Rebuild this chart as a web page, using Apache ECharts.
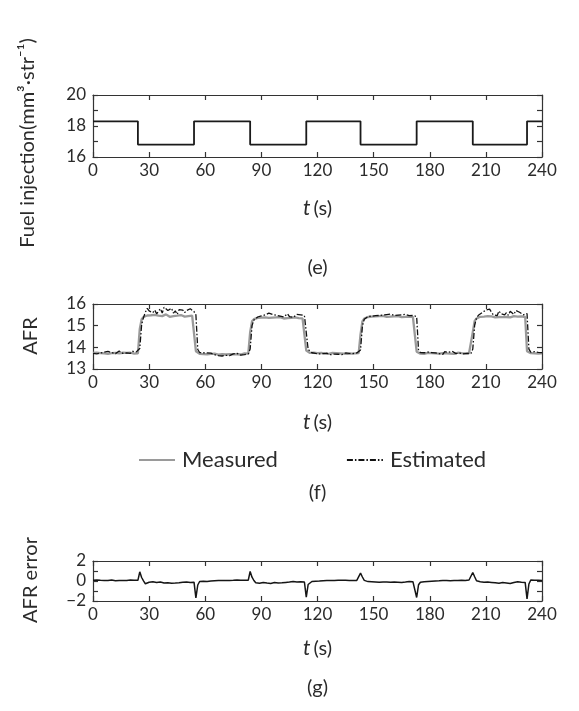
<!DOCTYPE html>
<html>
<head>
<meta charset="utf-8">
<script src="https://cdn.jsdelivr.net/npm/echarts@6/dist/echarts.min.js"></script>
<style>
  html, body { margin: 0; padding: 0; background: #ffffff; }
  #chart { width: 579px; height: 711px; }
</style>
</head>
<body>
<div id="chart"></div>
<script>
// ---- (e) fuel injection command: switching instants (s) and held level (mm³/stroke)
const fuelSwitchTimes = [0, 24, 54, 84, 114, 143, 173, 203, 232, 240];
const fuelLevels      = [18.3, 16.8, 18.3, 16.8, 18.3, 16.8, 18.3, 16.8, 18.3, 18.3];

// ---- (f) air-fuel ratio, one sample per second from t = 0 to t = 240
const SAMPLE_STEP = 1;
const afrMeasured = [
  13.74,13.72,13.75,13.71,13.73,13.76,13.72,13.74,13.70,13.75,
  13.73,13.71,13.74,13.76,13.72,13.73,13.75,13.71,13.74,13.72,
  13.75,13.73,13.71,13.74,13.72,14.85,15.30,15.40,15.44,15.47,
  15.43,15.48,15.45,15.50,15.42,15.46,15.49,15.44,15.47,15.52,
  15.45,15.41,15.48,15.44,15.50,15.46,15.43,15.49,15.45,15.42,
  15.47,15.44,15.50,15.46,15.43,13.82,13.74,13.70,13.72,13.69,
  13.71,13.68,13.72,13.70,13.67,13.71,13.69,13.66,13.70,13.68,
  13.65,13.67,13.70,13.68,13.66,13.69,13.71,13.68,13.70,13.67,
  13.69,13.72,13.70,13.71,14.70,15.20,15.30,15.33,15.36,15.34,
  15.37,15.35,15.38,15.33,15.36,15.40,15.37,15.34,15.38,15.35,
  15.39,15.36,15.33,15.37,15.35,15.40,15.36,15.34,15.38,15.36,
  15.35,15.38,15.34,15.37,13.85,13.78,13.74,13.72,13.75,13.71,
  13.73,13.70,13.74,13.72,13.71,13.73,13.70,13.72,13.74,13.71,
  13.73,13.70,13.72,13.69,13.71,13.73,13.70,13.72,13.71,13.74,
  13.72,13.70,13.73,14.60,15.20,15.33,15.38,15.40,15.39,15.42,
  15.40,15.43,15.41,15.44,15.42,15.45,15.43,15.41,15.44,15.42,
  15.45,15.43,15.40,15.44,15.42,15.39,15.43,15.41,15.40,15.42,
  15.39,15.41,15.40,13.80,13.74,13.71,13.73,13.70,13.72,13.74,
  13.71,13.73,13.70,13.72,13.74,13.71,13.69,13.73,13.70,13.72,
  13.74,13.71,13.73,13.70,13.72,13.75,13.71,13.73,13.70,13.72,
  13.71,13.73,13.72,14.70,15.22,15.33,15.38,15.41,15.37,15.42,
  15.40,15.44,15.39,15.43,15.41,15.38,15.42,15.40,15.44,15.39,
  15.42,15.40,15.43,15.38,15.41,15.44,15.40,15.42,15.39,15.43,
  15.41,15.40,13.82,13.76,13.73,13.75,13.72,13.74,13.71,13.73,
  13.72
];
const afrEstimated = [
  13.72,13.77,13.70,13.79,13.74,13.69,13.78,13.73,13.81,13.72,
  13.76,13.80,13.71,13.75,13.83,13.76,13.72,13.80,13.74,13.79,
  13.72,13.82,13.75,13.78,13.74,13.95,15.05,15.38,15.62,15.80,
  15.68,15.75,15.60,15.72,15.55,15.66,15.78,15.58,15.85,15.93,
  15.70,15.62,15.80,15.58,15.68,15.52,15.74,15.65,15.72,15.60,
  15.70,15.62,15.78,15.74,15.65,15.50,13.90,13.76,13.72,13.75,
  13.70,13.74,13.68,13.73,13.69,13.66,13.71,13.62,13.64,13.60,
  13.58,13.63,13.67,13.62,13.66,13.70,13.65,13.72,13.68,13.64,
  13.70,13.66,13.73,13.70,13.92,15.00,15.26,15.34,15.40,15.37,
  15.45,15.38,15.50,15.42,15.58,15.66,15.52,15.60,15.48,15.55,
  15.44,15.52,15.40,15.48,15.55,15.42,15.50,15.38,15.46,15.52,
  15.44,15.50,15.42,15.47,15.45,13.90,13.82,13.75,13.80,13.72,
  13.76,13.70,13.74,13.71,13.68,13.73,13.70,13.66,13.72,13.69,
  13.73,13.68,13.71,13.66,13.70,13.74,13.68,13.72,13.67,13.71,
  13.69,13.74,13.71,13.88,14.98,15.30,15.38,15.42,15.45,15.44,
  15.48,15.46,15.50,15.47,15.52,15.49,15.46,15.51,15.48,15.53,
  15.50,15.47,15.52,15.49,15.45,15.50,15.47,15.52,15.48,15.46,
  15.49,15.47,15.44,15.42,13.86,13.76,13.72,13.75,13.70,13.78,
  13.72,13.76,13.69,13.74,13.79,13.71,13.75,13.68,13.80,13.73,
  13.77,13.70,13.82,13.74,13.71,13.79,13.73,13.76,13.70,13.78,
  13.72,13.75,13.71,13.92,15.02,15.36,15.48,15.42,15.60,15.55,
  15.72,15.80,15.76,15.62,15.50,15.58,15.46,15.68,15.55,15.64,
  15.50,15.60,15.48,15.66,15.58,15.52,15.70,15.76,15.62,15.54,
  15.50,15.46,15.56,13.92,13.78,13.74,13.80,13.72,13.77,13.74,
  13.76
];

// ---- (g) AFR estimation error, same sampling
const afrError = [
  0.08,0.06,0.09,0.05,0.07,0.10,0.06,0.08,0.04,0.07,
  0.09,0.05,0.03,0.07,0.06,0.09,0.05,0.08,0.06,0.07,
  0.10,0.06,0.08,0.05,0.07,0.92,0.35,0.02,-0.28,-0.20,
  -0.12,-0.22,-0.08,-0.18,-0.15,-0.25,-0.10,-0.16,-0.20,-0.12,
  -0.18,-0.09,-0.22,-0.14,-0.20,-0.08,-0.17,-0.24,-0.12,-0.19,
  -0.10,-0.21,-0.15,-0.06,-0.12,-1.68,-0.40,-0.05,-0.12,-0.02,
  0.02,-0.04,0.05,0.00,0.06,0.03,-0.02,0.05,0.08,0.04,
  0.07,0.05,0.09,0.06,0.10,0.07,0.05,0.09,0.11,0.08,
  0.10,0.07,0.09,0.08,0.95,0.38,0.05,-0.18,-0.10,-0.22,
  -0.08,-0.15,-0.05,-0.20,-0.12,-0.24,-0.09,-0.16,-0.06,-0.19,
  -0.11,-0.18,-0.07,-0.14,-0.22,-0.10,-0.16,-0.05,-0.13,-0.09,
  -0.17,-0.08,-0.14,-0.10,-1.62,-0.35,-0.15,-0.05,-0.10,-0.02,
  -0.06,0.00,-0.04,0.03,-0.02,0.04,0.01,0.05,0.02,0.06,
  0.03,0.07,0.04,0.08,0.05,0.07,0.09,0.06,0.08,0.05,
  0.09,0.06,0.08,0.78,0.40,0.06,-0.10,-0.06,-0.14,-0.08,
  -0.05,-0.10,-0.07,-0.12,-0.04,-0.09,-0.06,-0.11,-0.08,-0.13,
  -0.07,-0.10,-0.05,-0.12,-0.08,-0.14,-0.06,-0.10,-0.09,-0.05,
  -0.11,-0.07,-0.04,-1.65,-0.38,-0.12,-0.03,-0.08,0.02,-0.05,
  0.03,-0.02,0.05,0.01,0.06,0.02,0.07,0.04,0.08,0.05,
  0.07,0.03,0.09,0.06,0.08,0.05,0.10,0.07,0.09,0.06,
  0.08,0.10,0.07,0.85,0.42,0.02,-0.16,-0.08,-0.22,-0.12,
  -0.20,-0.10,-0.25,-0.14,-0.06,-0.18,-0.11,-0.22,-0.09,-0.16,
  -0.08,-0.19,-0.12,-0.24,-0.10,-0.15,-0.20,-0.07,-0.17,-0.12,
  -0.09,-0.14,-1.78,-0.30,0.10,0.05,0.08,0.03,0.07,0.05,
  0.06
];

// ---- axis ranges / ticks
const timeRange = { min: 0, max: 240, interval: 30 };
const fuelRange = { min: 16, max: 20, interval: 1 };
const afrRange  = { min: 13, max: 16, interval: 1 };
const errRange  = { min: -2, max: 2, interval: 1 };

const FONT = 'Lato, "Open Sans", sans-serif';
const INK = '#2b2b2b';
const AXIS_LINE = { lineStyle: { color: '#333', width: 1.2 }, onZero: false };
const TICK = { inside: true, length: 5, lineStyle: { color: '#333', width: 1.2 } };

const toSeries = (values) => values.map((v, i) => [i * SAMPLE_STEP, v]);

const evenOnly = (v) => {
  if (Math.abs(v % 2) > 1e-9) return '';
  return v < 0 ? '\u2212' + Math.abs(v) : String(v);
};

const grids = [
  { left: 93, top: 95,  width: 449, height: 62 },
  { left: 93, top: 304, width: 449, height: 65 },
  { left: 93, top: 561, width: 449, height: 40 }
];

const tNameGap = [41, 43, 37];

const xAxes = [];
const yAxes = [];
grids.forEach((g, gi) => {
  xAxes.push({
    type: 'value', gridIndex: gi, position: 'bottom',
    min: timeRange.min, max: timeRange.max, interval: timeRange.interval,
    axisLine: AXIS_LINE, axisTick: TICK,
    axisLabel: { color: INK, fontFamily: FONT, fontSize: 17, margin: 5 },
    splitLine: { show: false },
    name: '{i|t}{n|(s)}',
    nameLocation: 'middle', nameGap: tNameGap[gi],
    nameTextStyle: {
      rich: {
        i: { fontFamily: FONT, fontStyle: 'italic', fontSize: 21, color: INK, padding: [0, 3, 0, 0] },
        n: { fontFamily: FONT, fontSize: 20, color: INK }
      }
    }
  });
  // mirrored top edge of the frame, ticks only
  xAxes.push({
    type: 'value', gridIndex: gi, position: 'top',
    min: timeRange.min, max: timeRange.max, interval: timeRange.interval,
    axisLine: AXIS_LINE, axisTick: TICK,
    axisLabel: { show: false },
    splitLine: { show: false }
  });
});

const yRanges = [fuelRange, afrRange, errRange];
const yFormat = [evenOnly, (v) => String(v), evenOnly];
grids.forEach((g, gi) => {
  const r = yRanges[gi];
  yAxes.push({
    type: 'value', gridIndex: gi, position: 'left',
    min: r.min, max: r.max, interval: r.interval,
    axisLine: AXIS_LINE, axisTick: TICK,
    axisLabel: { color: INK, fontFamily: FONT, fontSize: 17, margin: 7, formatter: yFormat[gi] },
    splitLine: { show: false }
  });
  // mirrored right edge of the frame, ticks only
  yAxes.push({
    type: 'value', gridIndex: gi, position: 'right',
    min: r.min, max: r.max, interval: r.interval,
    axisLine: AXIS_LINE, axisTick: TICK,
    axisLabel: { show: false },
    splitLine: { show: false }
  });
});

const chart = echarts.init(document.getElementById('chart'), null, { renderer: 'canvas' });

const caption = (text, y) => ({
  type: 'text', x: 317.5, y: y,
  style: { text: text, textAlign: 'center', textVerticalAlign: 'middle',
           fontFamily: FONT, fontSize: 20, fill: INK }
});
const yTitle = (text, x, y, size) => ({
  type: 'text', x: x, y: y, rotation: Math.PI / 2,
  style: { text: text, textAlign: 'center', textVerticalAlign: 'middle',
           fontFamily: FONT, fontSize: size, fill: INK }
});

chart.setOption({
  animation: false,
  backgroundColor: '#ffffff',
  grid: grids,
  xAxis: xAxes,
  yAxis: yAxes,
  legend: {
    left: 133, top: 444,
    itemWidth: 36, itemHeight: 10, itemGap: 68,
    itemStyle: { opacity: 0 },
    textStyle: { fontFamily: FONT, fontSize: 22, color: INK, padding: [0, 0, 0, 2] },
    data: ['Measured', 'Estimated']
  },
  graphic: [
    caption('(e)', 268),
    caption('(f)', 493),
    caption('(g)', 688),
    yTitle('Fuel injection(mm\u00B3\u00B7str\u207B\u00B9)', 28, 143, 20),
    yTitle('AFR', 31, 336, 20),
    yTitle('AFR error', 31, 580, 20)
  ],
  series: [
    {
      name: 'Fuel injection', type: 'line', xAxisIndex: 0, yAxisIndex: 0,
      step: 'end', symbol: 'none',
      lineStyle: { color: '#1a1a1a', width: 1.8 },
      data: fuelSwitchTimes.map((t, i) => [t, fuelLevels[i]])
    },
    {
      name: 'Measured', type: 'line', xAxisIndex: 2, yAxisIndex: 2,
      symbol: 'none',
      lineStyle: { color: '#9a9a9a', width: 2.3 },
      itemStyle: { color: '#9a9a9a' },
      data: toSeries(afrMeasured)
    },
    {
      name: 'Estimated', type: 'line', xAxisIndex: 2, yAxisIndex: 2,
      symbol: 'none',
      lineStyle: { color: '#111111', width: 1.3, type: [6, 2, 1.5, 2] },
      itemStyle: { color: '#111111' },
      data: toSeries(afrEstimated)
    },
    {
      name: 'AFR error', type: 'line', xAxisIndex: 4, yAxisIndex: 4,
      symbol: 'none',
      lineStyle: { color: '#151515', width: 1.5 },
      data: toSeries(afrError)
    }
  ]
});
</script>
</body>
</html>
